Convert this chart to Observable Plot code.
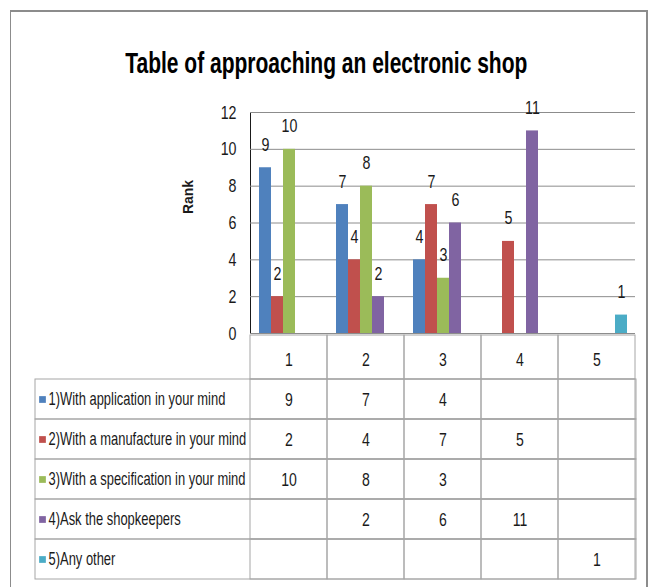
<!DOCTYPE html>
<html>
<head>
<meta charset="utf-8">
<script src="https://cdn.jsdelivr.net/npm/d3@7"></script>
<script src="https://cdn.jsdelivr.net/npm/@observablehq/plot@0.6"></script>
<style>
  html, body { margin: 0; padding: 0; background: #fff; overflow: hidden; }
  body { width: 652px; height: 587px; position: relative; font-family: "Liberation Sans", Arial, sans-serif; }
  #border { position: absolute; left: 10px; top: 10px; width: 638px; height: 600px;
            box-sizing: border-box; border: 2px solid #8c8c8c; border-left-width: 1px; }
  #title { position: absolute; left: 0; width: 652px; top: 47px; text-align: center; line-height: 32px; }
  #title span { display: inline-block; font-weight: bold; font-size: 30px; color: #000;
                transform: scaleX(0.70); transform-origin: center; white-space: nowrap; }
  #ylabel { position: absolute; left: 188px; top: 197px; width: 0; height: 0; }
  #ylabel span { position: absolute; transform: translate(-50%, -50%) rotate(-90deg);
                 font-weight: bold; font-size: 14px; color: #1a1a1a; white-space: nowrap; }
  #chart { position: absolute; left: 0; top: 80px; }
  #table { position: absolute; left: 0; top: 337px; }
  #chart svg, #table svg { overflow: visible; }
</style>
</head>
<body>
<div id="border"></div>
<div id="title"><span>Table of approaching an electronic shop</span></div>
<div id="ylabel"><span>Rank</span></div>
<div id="chart"></div>
<div id="table"></div>
<script>
// Survey answers: how respondents approach an electronic shop, by rank 1–5
const categories = ["1", "2", "3", "4", "5"];
const seriesNames = [
  "1)With application in your mind",
  "2)With a manufacture in your mind",
  "3)With a specification in your mind",
  "4)Ask the shopkeepers",
  "5)Any other"
];
const seriesColors = ["#4F81BD", "#C0504D", "#9BBB59", "#8064A2", "#4BACC6"];
const applicationValues = [9, 7, 4, null, null];
const manufactureValues = [2, 4, 7, 5, null];
const specificationValues = [10, 8, 3, null, null];
const shopkeeperValues = [null, 2, 6, 11, null];
const otherValues = [null, null, null, null, 1];
const yTicks = [0, 2, 4, 6, 8, 10, 12];

const seriesValues = [applicationValues, manufactureValues, specificationValues, shopkeeperValues, otherValues];

// one record per (series, category) cell of the data table
const cells = seriesValues.flatMap((values, s) =>
  values.map((value, i) => ({series: seriesNames[s], category: categories[i], value}))
);
const bars = cells.filter(d => d.value != null);

const textColor = "#1a1a1a";
const gridColor = "#8c8c8c";
const tableLine = "#a6a6a6";
const fontFamily = "'Liberation Sans', Arial, sans-serif";

// squeeze every label horizontally about its anchor to get a condensed face
function condense(svg, factor) {
  svg.querySelectorAll("text").forEach(t => {
    const x = +t.getAttribute("x") || 0;
    const tr = t.getAttribute("transform") || "";
    t.setAttribute("transform", `${tr} translate(${x},0) scale(${factor},1) translate(${-x},0)`.trim());
  });
}

const chart = Plot.plot({
  width: 652,
  height: 268,
  marginLeft: 248,
  marginRight: 16,
  marginTop: 32,
  marginBottom: 15,
  style: {fontSize: "19px", fontFamily, color: textColor, background: "transparent"},
  fx: {domain: categories, padding: 0, axis: null},
  x: {domain: seriesNames, paddingInner: 0, paddingOuter: 0.68, axis: null},
  y: {
    domain: [0, 12],
    ticks: yTicks,
    tickSize: 0,
    tickPadding: 14,
    line: true,
    label: null
  },
  color: {domain: seriesNames, range: seriesColors},
  marks: [
    Plot.ruleY(yTicks, {stroke: gridColor, strokeWidth: 1}),
    Plot.barY(bars, {fx: "category", x: "series", y: "value", fill: "series"}),
    Plot.text(bars, {
      fx: "category", x: "series", y: "value", text: d => String(d.value),
      dy: -23, fill: textColor, fontSize: 19
    })
  ]
});
document.getElementById("chart").append(chart);
condense(chart, 0.75);

const rows = ["", ...seriesNames];
const table = Plot.plot({
  width: 652,
  height: 247,
  marginLeft: 35,
  marginRight: 16,
  marginTop: 0,
  marginBottom: 3,
  style: {fontSize: "19px", fontFamily, color: textColor, background: "transparent"},
  x: {type: "band", domain: categories, range: [248, 636], padding: 0, axis: null},
  y: {type: "band", domain: rows, padding: 0, axis: null},
  color: {domain: seriesNames, range: seriesColors},
  marks: [
    // series rows span the legend column and all the value columns
    Plot.cell(seriesNames, {y: d => d, fill: "none", stroke: tableLine}),
    // header row holds the category numbers under the bars
    Plot.cell(categories, {x: d => d, y: () => "", insetTop: -4, fill: "none", stroke: tableLine}),
    Plot.cell(cells, {x: "category", y: "series", fill: "none", stroke: tableLine}),
    Plot.text(categories, {x: d => d, y: () => "", text: d => d, fill: textColor, fontSize: 19}),
    Plot.text(bars, {x: "category", y: "series", text: d => String(d.value), fill: textColor, fontSize: 19}),
    // legend keys
    Plot.dot(seriesNames, {y: d => d, frameAnchor: "left", dx: 7, symbol: "square", r: 3.8, fill: d => d}),
    Plot.text(seriesNames, {y: d => d, frameAnchor: "left", dx: 13, textAnchor: "start", text: d => d, fill: textColor, fontSize: 17.5})
  ]
});
document.getElementById("table").append(table);
condense(table, 0.74);
</script>
</body>
</html>
